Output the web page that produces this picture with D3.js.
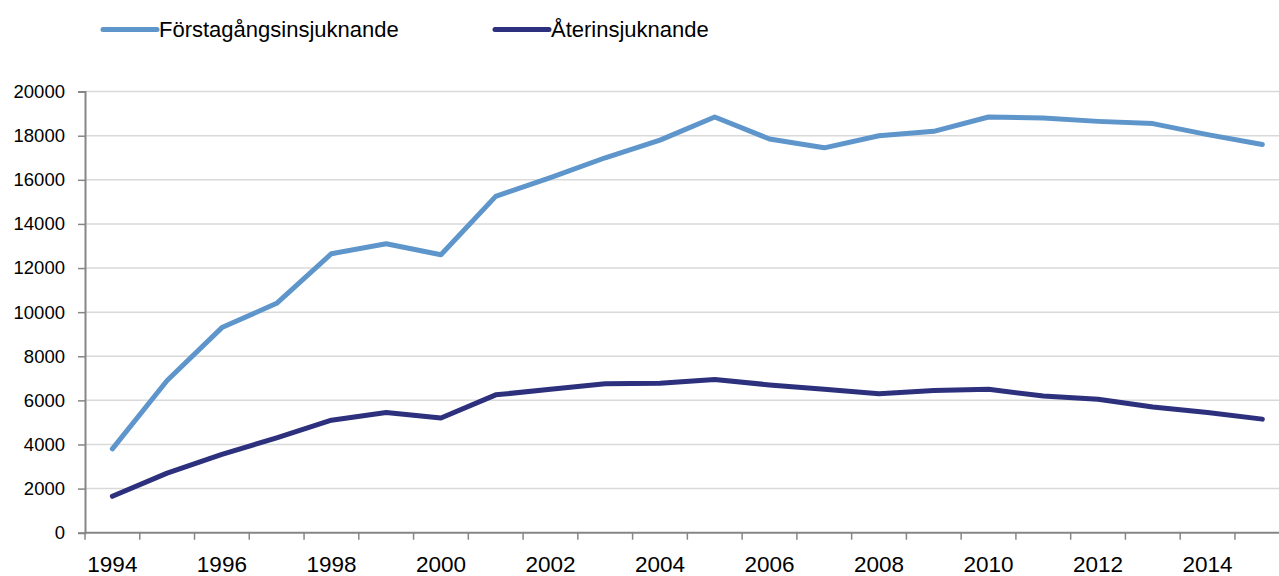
<!DOCTYPE html>
<html>
<head>
<meta charset="utf-8">
<script src="https://cdn.jsdelivr.net/npm/d3@7"></script>
<style>
  body { margin: 0; background: #fff; }
  svg { display: block; font-family: "Liberation Sans", Arial, sans-serif; }
</style>
</head>
<body>
<svg id="chart"></svg>
<script>
// data
var years = [1994, 1995, 1996, 1997, 1998, 1999, 2000, 2001, 2002, 2003, 2004,
             2005, 2006, 2007, 2008, 2009, 2010, 2011, 2012, 2013, 2014, 2015];
var forstagangs = [3800, 6900, 9300, 10400, 12650, 13100, 12600, 15250, 16100, 17000, 17800,
                   18850, 17850, 17450, 18000, 18200, 18850, 18800, 18650, 18550, 18050, 17600];
var aterinsjuknande = [1650, 2700, 3550, 4300, 5100, 5450, 5200, 6250, 6500, 6750, 6780,
                       6950, 6700, 6500, 6300, 6450, 6500, 6200, 6050, 5700, 5450, 5150];
var yTicks = [0, 2000, 4000, 6000, 8000, 10000, 12000, 14000, 16000, 18000, 20000];
var xLabels = [1994, 1996, 1998, 2000, 2002, 2004, 2006, 2008, 2010, 2012, 2014];
var seriesNames = ["Förstagångsinsjuknande", "Återinsjuknande"];
var colors = ["#5e95cb", "#2d307c"];

var W = 1279, H = 576;
var svg = d3.select("#chart").attr("width", W).attr("height", H);

var left = 85, bw = 54.76;
var x = d3.scaleBand()
    .domain(years)
    .range([left, left + years.length * bw])
    .padding(0);
var y = d3.scaleLinear().domain([0, 20000]).range([532.7, 91.6]);

// gridlines
svg.append("g").selectAll("line")
    .data(yTicks.filter(d => d > 0))
    .enter().append("line")
    .attr("x1", left).attr("x2", W)
    .attr("y1", d => y(d)).attr("y2", d => y(d))
    .attr("stroke", "#d9d9d9").attr("stroke-width", 1.5);

// y axis
var yAxis = svg.append("g")
    .attr("transform", "translate(" + left + ",0)")
    .call(d3.axisLeft(y).tickValues(yTicks).tickSize(7).tickPadding(13).tickFormat(d3.format("d")));
yAxis.select(".domain").attr("stroke", "#868686").attr("stroke-width", 2);
yAxis.selectAll(".tick line").attr("stroke", "#868686").attr("stroke-width", 1.5);
yAxis.selectAll("text").attr("font-size", 18.5).attr("fill", "#000")
    .attr("font-family", "Liberation Sans, Arial, sans-serif");

// x axis line
svg.append("line")
    .attr("x1", left).attr("x2", W)
    .attr("y1", y(0)).attr("y2", y(0))
    .attr("stroke", "#868686").attr("stroke-width", 2);

// x ticks at category boundaries
var bounds = years.map(d => x(d)).concat([x(years[years.length - 1]) + x.bandwidth()]);
svg.append("g").selectAll("line")
    .data(bounds)
    .enter().append("line")
    .attr("x1", d => d).attr("x2", d => d)
    .attr("y1", y(0)).attr("y2", y(0) + 7)
    .attr("stroke", "#868686").attr("stroke-width", 1.5);

svg.append("g").selectAll("text")
    .data(xLabels)
    .enter().append("text")
    .attr("x", d => x(d) + x.bandwidth() / 2)
    .attr("y", 572)
    .attr("text-anchor", "middle")
    .attr("font-size", 22.5)
    .text(d => d);

// lines
var line = d3.line()
    .x((d, i) => x(years[i]) + x.bandwidth() / 2)
    .y(d => y(d));

[forstagangs, aterinsjuknande].forEach(function(s, k) {
    svg.append("path")
        .datum(s)
        .attr("d", line)
        .attr("fill", "none")
        .attr("stroke", colors[k])
        .attr("stroke-width", 5)
        .attr("stroke-linejoin", "round")
        .attr("stroke-linecap", "round");
});

// legend
var legendX = [103, 495];
var lg = svg.append("g").selectAll("g")
    .data(seriesNames)
    .enter().append("g")
    .attr("transform", (d, i) => "translate(" + legendX[i] + ",29.5)");
lg.append("line")
    .attr("x1", 0).attr("x2", 54)
    .attr("stroke", (d, i) => colors[i])
    .attr("stroke-width", 5)
    .attr("stroke-linecap", "round");
lg.append("text")
    .attr("x", 56)
    .attr("y", 7.5)
    .attr("font-size", 22)
    .text(d => d);
</script>
</body>
</html>
